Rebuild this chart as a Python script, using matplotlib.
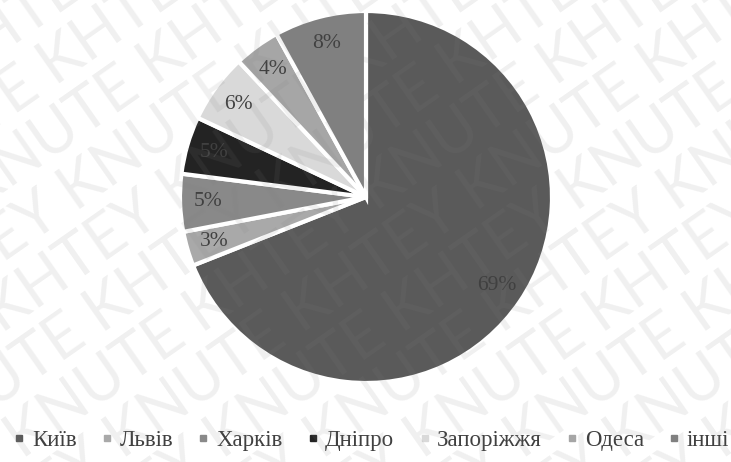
import numpy as np
import matplotlib
matplotlib.use("Agg")
import matplotlib.pyplot as plt
from matplotlib.lines import Line2D

cities = ["Київ", "Львів", "Харків", "Дніпро", "Запоріжжя", "Одеса", "інші"]
shares = [69, 3, 5, 5, 6, 4, 8]
colors = ["#5a5a5a", "#a9a9a9", "#898989", "#232323", "#d9d9d9", "#a6a6a6", "#808080"]

plt.rcParams["font.family"] = ["Liberation Serif", "DejaVu Serif"]

W, H = 731, 462
fig = plt.figure(figsize=(W / 100, H / 100), dpi=100)
ax = fig.add_axes([0, 0, 1, 1])

cx, cy, r = 366, H - 197, 186
wedges, texts, autotexts = ax.pie(
    shares, colors=colors, startangle=90, counterclock=False,
    center=(cx, cy), radius=r, autopct="%1.0f%%", pctdistance=0.85,
    wedgeprops=dict(edgecolor="white", linewidth=3),
    textprops=dict(color="#404040", fontsize=15.5), frame=True)
ax.set_xlim(0, W)
ax.set_ylim(0, H)
ax.set_aspect("equal")
ax.axis("off")

handles = [Line2D([], [], marker="s", linestyle="none", markersize=5,
                  markerfacecolor=c, markeredgecolor=c) for c in colors]
leg = ax.legend(handles, cities, loc="center", bbox_to_anchor=(372 / W, 1 - 440 / H),
                ncol=7, frameon=False, fontsize=16.5, handlelength=0.4,
                handletextpad=0.35, columnspacing=1.12,
                labelcolor="#404040", borderpad=0, borderaxespad=0)

# watermark across the whole figure
for k in range(-8, 11):
    ax.text(cx + k * 100, cy, "KNUTE KHTEY " * 8, rotation=35,
            fontsize=44, family="Lato", color="#808080",
            alpha=0.12, ha="center", va="center", rotation_mode="anchor",
            zorder=10, clip_on=True)

fig.savefig("out.png", dpi=100)
